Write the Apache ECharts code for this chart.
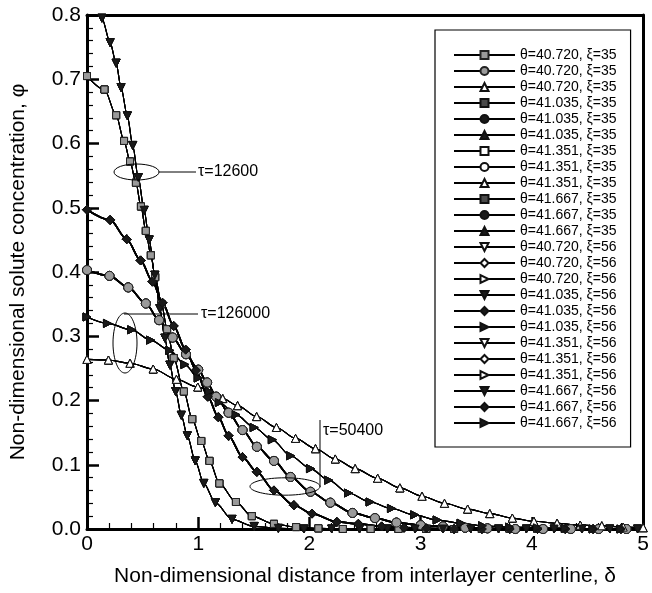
<!DOCTYPE html>
<html><head><meta charset="utf-8">
<script src="https://cdn.jsdelivr.net/npm/echarts@6/dist/echarts.min.js"></script>
<style>html,body{margin:0;padding:0;background:#fff}#c{width:652px;height:593px}</style>
</head><body><div id="c"></div>
<script>
// ---- data ----
const thetas = ['40.720', '41.035', '41.351', '41.667'];
const xis = ['35', '56'];
const taus = ['12600', '50400', '126000'];

// xi = 35, tau = 12600 (squares)
const x35_12600 = [0, 0.157, 0.262, 0.333, 0.387, 0.44, 0.485, 0.529, 0.574, 0.613, 0.67, 0.72, 0.78, 0.871, 0.946, 1.027, 1.101, 1.19, 1.339, 1.482, 1.681, 1.88, 2.08, 2.3, 2.55, 2.8, 3.05, 3.3, 3.55, 3.8, 4.05, 4.3, 4.55, 4.8];
const y35_12600 = [0.705, 0.684, 0.644, 0.604, 0.572, 0.539, 0.502, 0.464, 0.426, 0.392, 0.35, 0.311, 0.266, 0.214, 0.171, 0.137, 0.106, 0.071, 0.042, 0.02, 0.008, 0.003, 0.001, 0, 0, 0, 0, 0, 0, 0, 0, 0, 0, 0];
// xi = 56, tau = 12600 (down triangles)
const x56_12600 = [0, 0.067, 0.134, 0.208, 0.262, 0.306, 0.363, 0.411, 0.461, 0.514, 0.559, 0.61, 0.655, 0.7, 0.745, 0.797, 0.848, 0.902, 0.973, 1.05, 1.154, 1.304, 1.503, 1.72, 1.95, 2.2, 2.45, 2.7, 2.95, 3.2, 3.45, 3.7, 3.95, 4.2, 4.45, 4.7, 4.95];
const y56_12600 = [0.83, 0.82, 0.795, 0.757, 0.725, 0.687, 0.643, 0.597, 0.547, 0.496, 0.45, 0.395, 0.343, 0.297, 0.255, 0.214, 0.177, 0.145, 0.106, 0.071, 0.041, 0.015, 0.004, 0.001, 0, 0, 0, 0, 0, 0, 0, 0, 0, 0, 0, 0, 0];
// xi = 35, tau = 50400 (circles)
const x35_50400 = [0, 0.202, 0.371, 0.529, 0.648, 0.77, 0.89, 1.0, 1.08, 1.161, 1.273, 1.398, 1.527, 1.681, 1.83, 2.009, 2.188, 2.387, 2.589, 2.782, 3.0, 3.2, 3.4, 3.6, 3.85, 4.1, 4.35, 4.6, 4.85];
const y35_50400 = [0.403, 0.394, 0.376, 0.351, 0.325, 0.298, 0.272, 0.248, 0.228, 0.206, 0.181, 0.154, 0.128, 0.106, 0.081, 0.058, 0.041, 0.025, 0.017, 0.010, 0.006, 0.004, 0.002, 0.001, 0, 0, 0, 0, 0];
// xi = 56, tau = 50400 (diamonds)
const x56_50400 = [0, 0.208, 0.357, 0.482, 0.589, 0.679, 0.779, 0.887, 0.98, 1.086, 1.181, 1.273, 1.398, 1.527, 1.681, 1.86, 2.023, 2.246, 2.44, 2.65, 2.85, 3.05, 3.3, 3.55, 3.8, 4.05, 4.3, 4.55, 4.8];
const y56_50400 = [0.497, 0.481, 0.451, 0.418, 0.385, 0.352, 0.316, 0.279, 0.247, 0.206, 0.174, 0.145, 0.112, 0.089, 0.06, 0.037, 0.024, 0.011, 0.008, 0.004, 0.002, 0.001, 0, 0, 0, 0, 0, 0, 0];
// xi = 35, tau = 126000 (triangles)
const x35_126000 = [0, 0.193, 0.387, 0.595, 0.804, 0.996, 1.22, 1.354, 1.525, 1.703, 1.875, 2.054, 2.232, 2.411, 2.613, 2.813, 3.012, 3.214, 3.422, 3.621, 3.824, 4.018, 4.226, 4.434, 4.628, 4.821, 5.0];
const y35_126000 = [0.264, 0.263, 0.258, 0.249, 0.233, 0.221, 0.203, 0.192, 0.175, 0.158, 0.141, 0.125, 0.109, 0.094, 0.079, 0.064, 0.051, 0.04, 0.031, 0.024, 0.017, 0.012, 0.009, 0.006, 0.005, 0.003, 0.002];
// xi = 56, tau = 126000 (right triangles)
const x56_126000 = [0, 0.184, 0.402, 0.571, 0.744, 0.88, 1.0, 1.1, 1.19, 1.339, 1.503, 1.666, 1.83, 2.009, 2.172, 2.351, 2.545, 2.737, 2.946, 3.148, 3.363, 3.556, 3.8, 4.05, 4.3, 4.55, 4.8];
const y56_126000 = [0.330, 0.320, 0.310, 0.294, 0.278, 0.256, 0.235, 0.214, 0.197, 0.178, 0.158, 0.139, 0.114, 0.094, 0.076, 0.056, 0.042, 0.032, 0.022, 0.014, 0.009, 0.005, 0.003, 0.002, 0.001, 0, 0];

const xTickValues = [0, 1, 2, 3, 4, 5];
const yTickLabels = ['0.0', '0.1', '0.2', '0.3', '0.4', '0.5', '0.6', '0.7', '0.8'];

// ---- styles ----
const groups = {
  '35': [[x35_12600, y35_12600], [x35_50400, y35_50400], [x35_126000, y35_126000]],
  '56': [[x56_12600, y56_12600], [x56_50400, y56_50400], [x56_126000, y56_126000]]
};
const symbols = {
  '35': [['rect', 7, 0], ['circle', 9, 0], ['triangle', 8, 0]],
  '56': [['triangle', 8, 180], ['diamond', 9, 0], ['triangle', 8, -90]]
};
const fillKinds = {
  '35': {'40.720': ['gray', 'gray', 'hollow'], '41.035': ['dark', 'black', 'black'], '41.351': ['hollow', 'hollow', 'hollow'], '41.667': ['dark', 'black', 'black']},
  '56': {'40.720': ['hollow', 'hollow', 'hollow'], '41.035': ['black', 'black', 'black'], '41.351': ['hollow', 'hollow', 'hollow'], '41.667': ['black', 'black', 'black']}
};
const fills = {
  gray: {color: '#9a9a9a', borderColor: '#222'},
  dark: {color: '#4a4a4a', borderColor: '#111'},
  black: {color: '#1a1a1a', borderColor: '#111'},
  hollow: {color: '#ffffff', borderColor: '#111'}
};
const zOrder = {
  '35': {'40.720': 6, '41.351': 5, '41.035': 4, '41.667': 3},
  '56': {'41.035': 6, '41.667': 5, '40.720': 4, '41.351': 3}
};

const series = [];
const legendNames = [];
const legendLabels = {};
let idx = 0;
xis.forEach(function (xi) {
  thetas.forEach(function (th) {
    for (let k = 0; k < 3; k++) {
      const [xs, ys] = groups[xi][k];
      const [sym, size, rot] = symbols[xi][k];
      const f = fills[fillKinds[xi][th][k]];
      const name = 's' + idx;
      legendNames.push(name);
      legendLabels[name] = 'θ=' + th + ', ξ=' + xi;
      series.push({
        name: name,
        type: 'line',
        data: xs.map(function (x, j) { return [x, ys[j]]; }),
        smooth: 0.3,
        smoothMonotone: 'x',
        symbol: sym,
        symbolSize: size,
        symbolRotate: rot,
        showSymbol: true,
        showAllSymbol: true,
        clip: true,
        z: zOrder[xi][th],
        lineStyle: {color: '#000', width: k === 1 ? 1.7 : 1.1},
        itemStyle: {color: f.color, borderColor: f.borderColor, borderWidth: 1},
        emphasis: {disabled: true},
        animation: false
      });
      idx++;
    }
  });
});

const FONT = 'Liberation Sans';
const chart = echarts.init(document.getElementById('c'), null, {renderer: 'canvas'});
chart.setOption({
  backgroundColor: '#fff',
  animation: false,
  grid: {left: 87, right: 5, top: 15, bottom: 64, containLabel: false},
  xAxis: [{
    type: 'value', min: 0, max: 5, interval: 1,
    name: 'Non-dimensional distance from interlayer centerline, δ',
    nameLocation: 'middle', nameGap: 37,
    nameTextStyle: {fontFamily: FONT, fontSize: 21, color: '#000'},
    axisLine: {show: true, onZero: false, lineStyle: {color: '#000', width: 3}},
    axisTick: {show: true, inside: true, length: 12, lineStyle: {color: '#000', width: 2.5}},
    minorTick: {show: true, splitNumber: 5, length: 6, lineStyle: {color: '#000', width: 1.2}},
    axisLabel: {fontFamily: FONT, fontSize: 21, color: '#000', margin: 5,
      formatter: function (v) { return xTickValues.indexOf(v) >= 0 ? String(v) : ''; }},
    splitLine: {show: false}
  }, {
    type: 'value', position: 'top', min: 0, max: 5,
    axisLine: {show: true, onZero: false, lineStyle: {color: '#000', width: 3}},
    axisTick: {show: false}, axisLabel: {show: false}, splitLine: {show: false}
  }],
  yAxis: [{
    type: 'value', min: 0, max: 0.8, interval: 0.1,
    name: 'Non-dimensional solute concentration, φ',
    nameLocation: 'middle', nameGap: 58,
    nameTextStyle: {fontFamily: FONT, fontSize: 21, color: '#000'},
    axisLine: {show: true, onZero: false, lineStyle: {color: '#000', width: 3}},
    axisTick: {show: true, inside: true, length: 12, lineStyle: {color: '#000', width: 2.5}},
    minorTick: {show: true, splitNumber: 5, length: 6, lineStyle: {color: '#000', width: 1.2}},
    axisLabel: {fontFamily: FONT, fontSize: 21, color: '#000', margin: 6,
      formatter: function (v) { return yTickLabels[Math.round(v * 10)]; }},
    splitLine: {show: false}
  }, {
    type: 'value', position: 'right', min: 0, max: 0.8,
    axisLine: {show: true, onZero: false, lineStyle: {color: '#000', width: 3}},
    axisTick: {show: false}, axisLabel: {show: false}, splitLine: {show: false}
  }],
  legend: {
    show: true, orient: 'vertical', left: 435, top: 30,
    data: legendNames,
    formatter: function (n) { return legendLabels[n]; },
    padding: [17, 14, 16, 18],
    itemWidth: 61, itemHeight: 10, itemGap: 0,
    borderColor: '#000', borderWidth: 1.2, backgroundColor: '#fff',
    selectedMode: false,
    textStyle: {fontFamily: FONT, fontSize: 14, color: '#000', lineHeight: 16}
  },
  series: series,
  graphic: [
    {type: 'ellipse', shape: {cx: 136.5, cy: 172, rx: 22.5, ry: 8}, style: {fill: 'none', stroke: '#000', lineWidth: 1}, z: 100},
    {type: 'line', shape: {x1: 159, y1: 172, x2: 196, y2: 172}, style: {stroke: '#000', lineWidth: 1}, z: 100},
    {type: 'text', x: 198, y: 172, style: {text: 'τ=12600', font: '16px "Liberation Sans"', fill: '#000', verticalAlign: 'middle'}, z: 100},
    {type: 'ellipse', shape: {cx: 125, cy: 343, rx: 12, ry: 30}, style: {fill: 'none', stroke: '#000', lineWidth: 1}, z: 100},
    {type: 'line', shape: {x1: 124, y1: 314, x2: 198, y2: 314}, style: {stroke: '#000', lineWidth: 1}, z: 100},
    {type: 'text', x: 201, y: 314, style: {text: 'τ=126000', font: '16px "Liberation Sans"', fill: '#000', verticalAlign: 'middle'}, z: 100},
    {type: 'ellipse', shape: {cx: 285, cy: 486.5, rx: 35, ry: 8.7}, style: {fill: 'none', stroke: '#000', lineWidth: 1}, z: 100},
    {type: 'line', shape: {x1: 320, y1: 420, x2: 320, y2: 487}, style: {stroke: '#000', lineWidth: 1}, z: 100},
    {type: 'text', x: 323, y: 431, style: {text: 'τ=50400', font: '16px "Liberation Sans"', fill: '#000', verticalAlign: 'middle'}, z: 100}
  ]
});
</script>
</body></html>
